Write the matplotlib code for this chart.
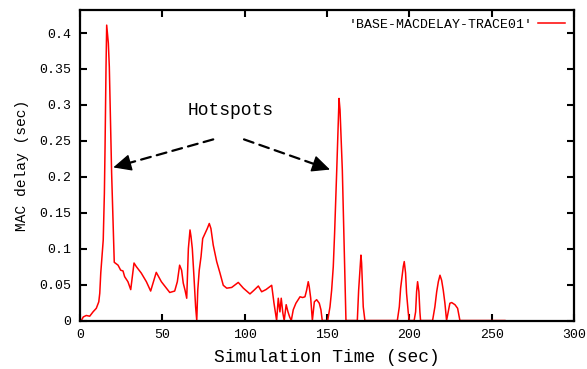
import numpy as np
import matplotlib
matplotlib.use("Agg")
import matplotlib.pyplot as plt

sim_time = [0.0, 0.8, 2.0, 3.8, 5.9, 7.9, 9.9, 11.4, 12.0, 12.6, 14.1, 14.8, 15.2, 15.8, 16.2,
            17.2, 17.8, 18.6, 19.2, 20.2, 20.8, 23.1, 24.7, 26.1, 27.1, 29.1, 30.8, 32.8, 34.2,
            37.2, 40.3, 42.9, 44.9, 46.3, 49.4, 51.8, 54.5, 57.5, 59.1, 60.5, 61.7, 62.7, 63.8,
            64.8, 65.8, 66.8, 67.4, 68.2, 69.2, 70.2, 70.9, 71.5, 72.4, 73.5, 74.5, 75.9, 77.3,
            78.5, 79.5, 80.9, 83.0, 85.0, 87.0, 89.1, 92.1, 96.1, 99.2, 103.2, 105.6, 108.3,
            110.3, 112.9, 116.4, 117.8, 119.4, 120.4, 121.4, 122.2, 123.2, 124.0, 125.2, 126.3,
            127.3, 128.3, 129.5, 131.1, 132.5, 133.6, 135.2, 136.6, 137.6, 138.6, 139.2, 140.1,
            141.1, 142.3, 143.7, 145.3, 146.3, 147.1, 150.4, 151.8, 152.8, 153.8, 154.6, 155.9,
            157.3, 157.9, 158.3, 159.3, 160.3, 161.5, 168.4, 169.2, 170.0, 170.6, 171.0, 172.0,
            173.0, 192.7, 193.9, 194.7, 195.7, 196.3, 196.9, 197.7, 198.3, 199.3, 199.9, 202.9,
            203.8, 204.4, 205.0, 205.8, 206.4, 206.8, 214.1, 215.5, 216.6, 217.6, 218.6, 219.6,
            220.6, 221.6, 222.6, 223.6, 224.6, 225.7, 227.7, 229.3, 230.7, 258.0]
mac_delay = [0.0, 0.0, 0.005, 0.007, 0.006, 0.012, 0.017, 0.026, 0.038, 0.066, 0.112, 0.177, 0.240,
             0.353, 0.411, 0.386, 0.353, 0.272, 0.205, 0.126, 0.081, 0.077, 0.070, 0.069, 0.061,
             0.054, 0.043, 0.080, 0.075, 0.066, 0.054, 0.041, 0.056, 0.067, 0.054, 0.047, 0.039,
             0.041, 0.054, 0.077, 0.070, 0.052, 0.042, 0.031, 0.100, 0.126, 0.117, 0.100, 0.061,
             0.019, 0.0, 0.042, 0.070, 0.089, 0.114, 0.121, 0.128, 0.135, 0.128, 0.105, 0.082,
             0.066, 0.049, 0.045, 0.046, 0.053, 0.045, 0.037, 0.042, 0.048, 0.040, 0.043, 0.049,
             0.024, 0.0, 0.031, 0.012, 0.031, 0.010, 0.0, 0.022, 0.012, 0.005, 0.0, 0.015, 0.024,
             0.029, 0.033, 0.032, 0.033, 0.042, 0.054, 0.047, 0.031, 0.0, 0.026, 0.029, 0.024,
             0.015, 0.0, 0.0, 0.019, 0.042, 0.075, 0.121, 0.209, 0.309, 0.293, 0.270, 0.209,
             0.112, 0.0, 0.0, 0.042, 0.070, 0.091, 0.080, 0.019, 0.0, 0.0, 0.019, 0.045, 0.063,
             0.075, 0.082, 0.066, 0.038, 0.012, 0.0, 0.0, 0.012, 0.040, 0.054, 0.040, 0.012, 0.0,
             0.0, 0.019, 0.040, 0.054, 0.063, 0.056, 0.042, 0.024, 0.0, 0.012, 0.024, 0.025,
             0.022, 0.017, 0.0, 0.0]

x_ticks = [0, 50, 100, 150, 200, 250, 300]
y_ticks = [0, 0.05, 0.1, 0.15, 0.2, 0.25, 0.3, 0.35, 0.4]
y_tick_labels = ['0', '0.05', '0.1', '0.15', '0.2', '0.25', '0.3', '0.35', '0.4']
series_label = "'BASE-MACDELAY-TRACE01'"

# anotacion: texto y flechas (cola -> punta)
note_text = 'Hotspots'
note_pos = (91.4, 0.292)
arrows = [((80.9, 0.252), (20.2, 0.213)),
          ((99.6, 0.252), (151.8, 0.210))]

plt.rcParams['font.family'] = ['Liberation Mono', 'DejaVu Sans']

fig = plt.figure(figsize=(5.87, 3.69), dpi=100)
ax = fig.add_axes([0.1363, 0.1314, 0.8416, 0.8428])

ax.plot(sim_time, mac_delay, color='#ff0000', lw=1.1, label=series_label)

ax.set_xlim(0, 300)
ax.set_ylim(0, 0.4327)
ax.set_xticks(x_ticks)
ax.set_yticks(y_ticks)
ax.set_yticklabels(y_tick_labels)

ax.tick_params(direction='in', length=5, width=1.5, top=True, right=True,
               labelsize=9.5, colors='black', pad=6)
for s in ax.spines.values():
    s.set_linewidth(1.6)

ax.set_xlabel('Simulation Time (sec)', fontsize=13, labelpad=6)
ax.set_ylabel('MAC delay (sec)', fontsize=10.5, labelpad=8)

# flechas discontinuas con punta solida
for tail, head in arrows:
    ax.annotate('', xy=head, xytext=tail,
                arrowprops=dict(arrowstyle='-', linestyle=(0, (4.5, 2.8)), lw=1.6,
                                color='black', shrinkA=0, shrinkB=6))
    ax.annotate('', xy=head, xytext=(head[0] + (tail[0] - head[0]) * 0.15,
                                     head[1] + (tail[1] - head[1]) * 0.15),
                arrowprops=dict(arrowstyle='-|>,head_length=0.75,head_width=0.35', lw=1.0,
                                color='black', mutation_scale=15, shrinkA=0, shrinkB=0))
ax.text(note_pos[0], note_pos[1], note_text, fontsize=13, ha='center', va='center')

leg = ax.legend(loc='upper right', frameon=False, markerfirst=False, fontsize=9.5,
                handlelength=2.0, handletextpad=0.45, borderaxespad=0.3)

fig.savefig('out.png', dpi=100)
